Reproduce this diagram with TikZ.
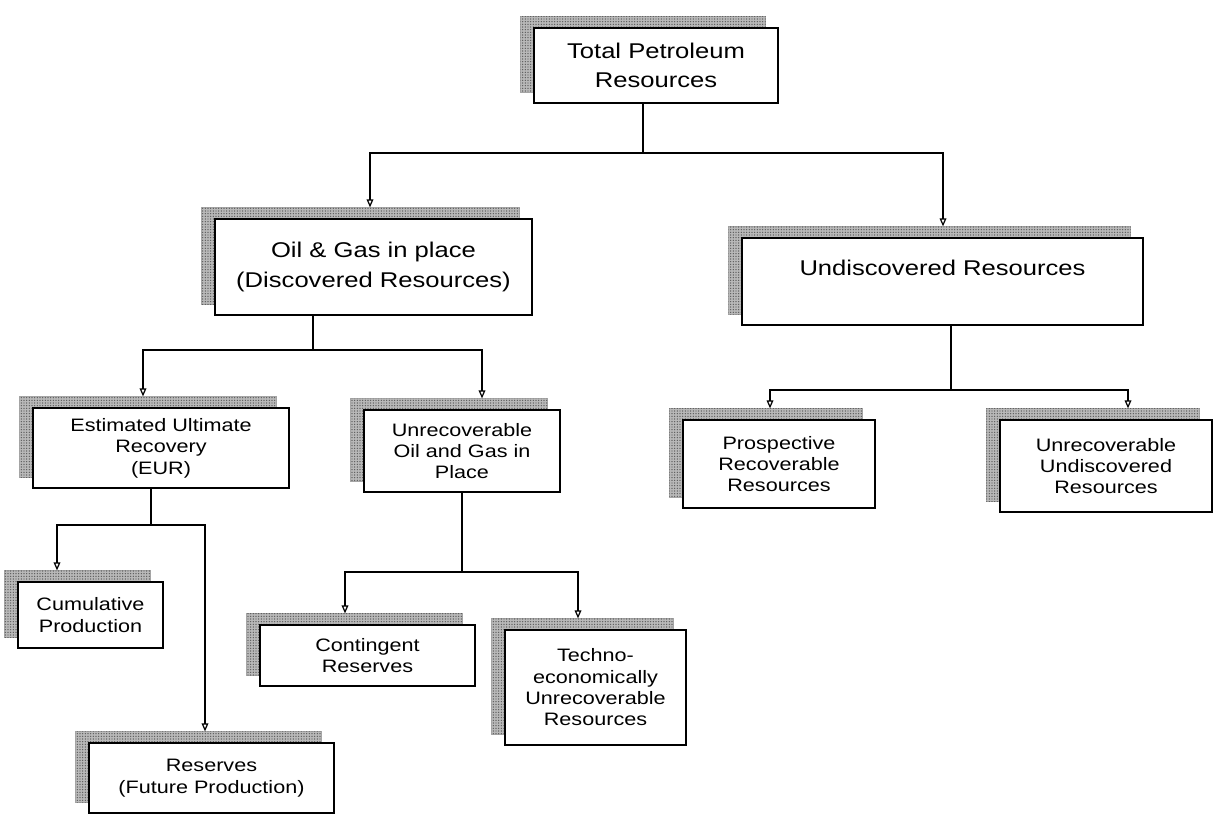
\documentclass[tikz,border=0pt]{standalone}
\usepackage{fontspec}
\setmainfont{Liberation Sans}[FakeStretch=1.2]
\usetikzlibrary{arrows.meta,backgrounds,calc,patterns.meta}
\begin{document}
\begin{tikzpicture}[x=0.75pt,y=-0.75pt,
  box/.style={draw=black, line width=0.9pt, fill=white, align=center, inner sep=2pt},
  bigtxt/.style={font=\fontsize{16}{22}\selectfont},
  smalltxt/.style={font=\fontsize{13.5}{16}\selectfont},
  conn/.style={draw=black, line width=0.9pt},
  arr/.style={conn, -{Triangle[open,length=6pt,width=5pt]}},
  shadowfill/.style={fill=gray!55, draw=gray!70, line width=0.4pt},
  shadowdots/.style={pattern={Dots[radius=0.55pt,distance=2pt]}, pattern color=black!65}
]
\useasboundingbox (0,0) rectangle (1214,819);

% boxes
\node[box,bigtxt,minimum width=183pt,minimum height=56.25pt] (total) at (656,65.5) {Total Petroleum\\Resources};
\node[box,bigtxt,minimum width=237.75pt,minimum height=72pt] (oil) at (373.5,267) {Oil \& Gas in place\\(Discovered Resources)};
\node[box,bigtxt,minimum width=300.75pt,minimum height=65.25pt,text depth=20pt] (undisc) at (942.5,281.5) {Undiscovered Resources};
\node[box,smalltxt,minimum width=192pt,minimum height=60pt] (eur) at (161,448) {Estimated Ultimate\\Recovery\\(EUR)};
\node[box,smalltxt,minimum width=147pt,minimum height=61.5pt] (unog) at (462,451) {Unrecoverable\\Oil and Gas in\\Place};
\node[box,smalltxt,minimum width=144pt,minimum height=66pt] (prosp) at (779,464) {Prospective\\Recoverable\\Resources};
\node[box,smalltxt,minimum width=159pt,minimum height=69pt] (unund) at (1106,466) {Unrecoverable\\Undiscovered\\Resources};
\node[box,smalltxt,minimum width=108.75pt,minimum height=49.5pt] (cum) at (90.5,615) {Cumulative\\Production};
\node[box,smalltxt,minimum width=161.25pt,minimum height=45.75pt] (cont) at (367.5,655.5) {Contingent\\Reserves};
\node[box,smalltxt,minimum width=135.75pt,minimum height=86.25pt] (techno) at (595.5,687.5) {Techno-\\economically\\Unrecoverable\\Resources};
\node[box,smalltxt,minimum width=183.75pt,minimum height=52.5pt] (res) at (211.5,778) {Reserves\\(Future Production)};

% shadows
\begin{scope}[on background layer]
\foreach \n in {total,oil,undisc,eur,unog,prosp,unund,cum,cont,techno,res}{
  \path[shadowfill] ($(\n.south west)+(-13,-11)$) rectangle ($(\n.north east)+(-13,-11)$);
  \path[shadowdots] ($(\n.south west)+(-13,-11)$) rectangle ($(\n.north east)+(-13,-11)$);
}
\end{scope}

% connectors
\coordinate (j1) at (643,153);
\coordinate (j2) at (313,350);
\coordinate (j3) at (951,390);
\coordinate (j4) at (151,525);
\coordinate (j5) at (462,572);

\draw[conn] (j1 |- total.south) -- (j1);
\draw[arr] (j1) -| ($(oil.north)+(-3.5,-11)$);
\draw[arr] (j1) -| ($(undisc.north)+(0.5,-11)$);

\draw[conn] (j2 |- oil.south) -- (j2);
\draw[arr] (j2) -| ($(eur.north)+(-18,-11)$);
\draw[arr] (j2) -| ($(unog.north)+(20,-11)$);

\draw[conn] (j3 |- undisc.south) -- (j3);
\draw[arr] (j3) -| ($(prosp.north)+(-9,-11)$);
\draw[arr] (j3) -| ($(unund.north)+(22,-11)$);

\draw[conn] (j4 |- eur.south) -- (j4);
\draw[arr] (j4) -| ($(cum.north)+(-33.5,-11)$);
\draw[arr] (j4) -| ($(res.north)+(-6.5,-11)$);

\draw[conn] (j5 |- unog.south) -- (j5);
\draw[arr] (j5) -| ($(cont.north)+(-22.5,-11)$);
\draw[arr] (j5) -| ($(techno.north)+(-17.5,-11)$);
\end{tikzpicture}
\end{document}
